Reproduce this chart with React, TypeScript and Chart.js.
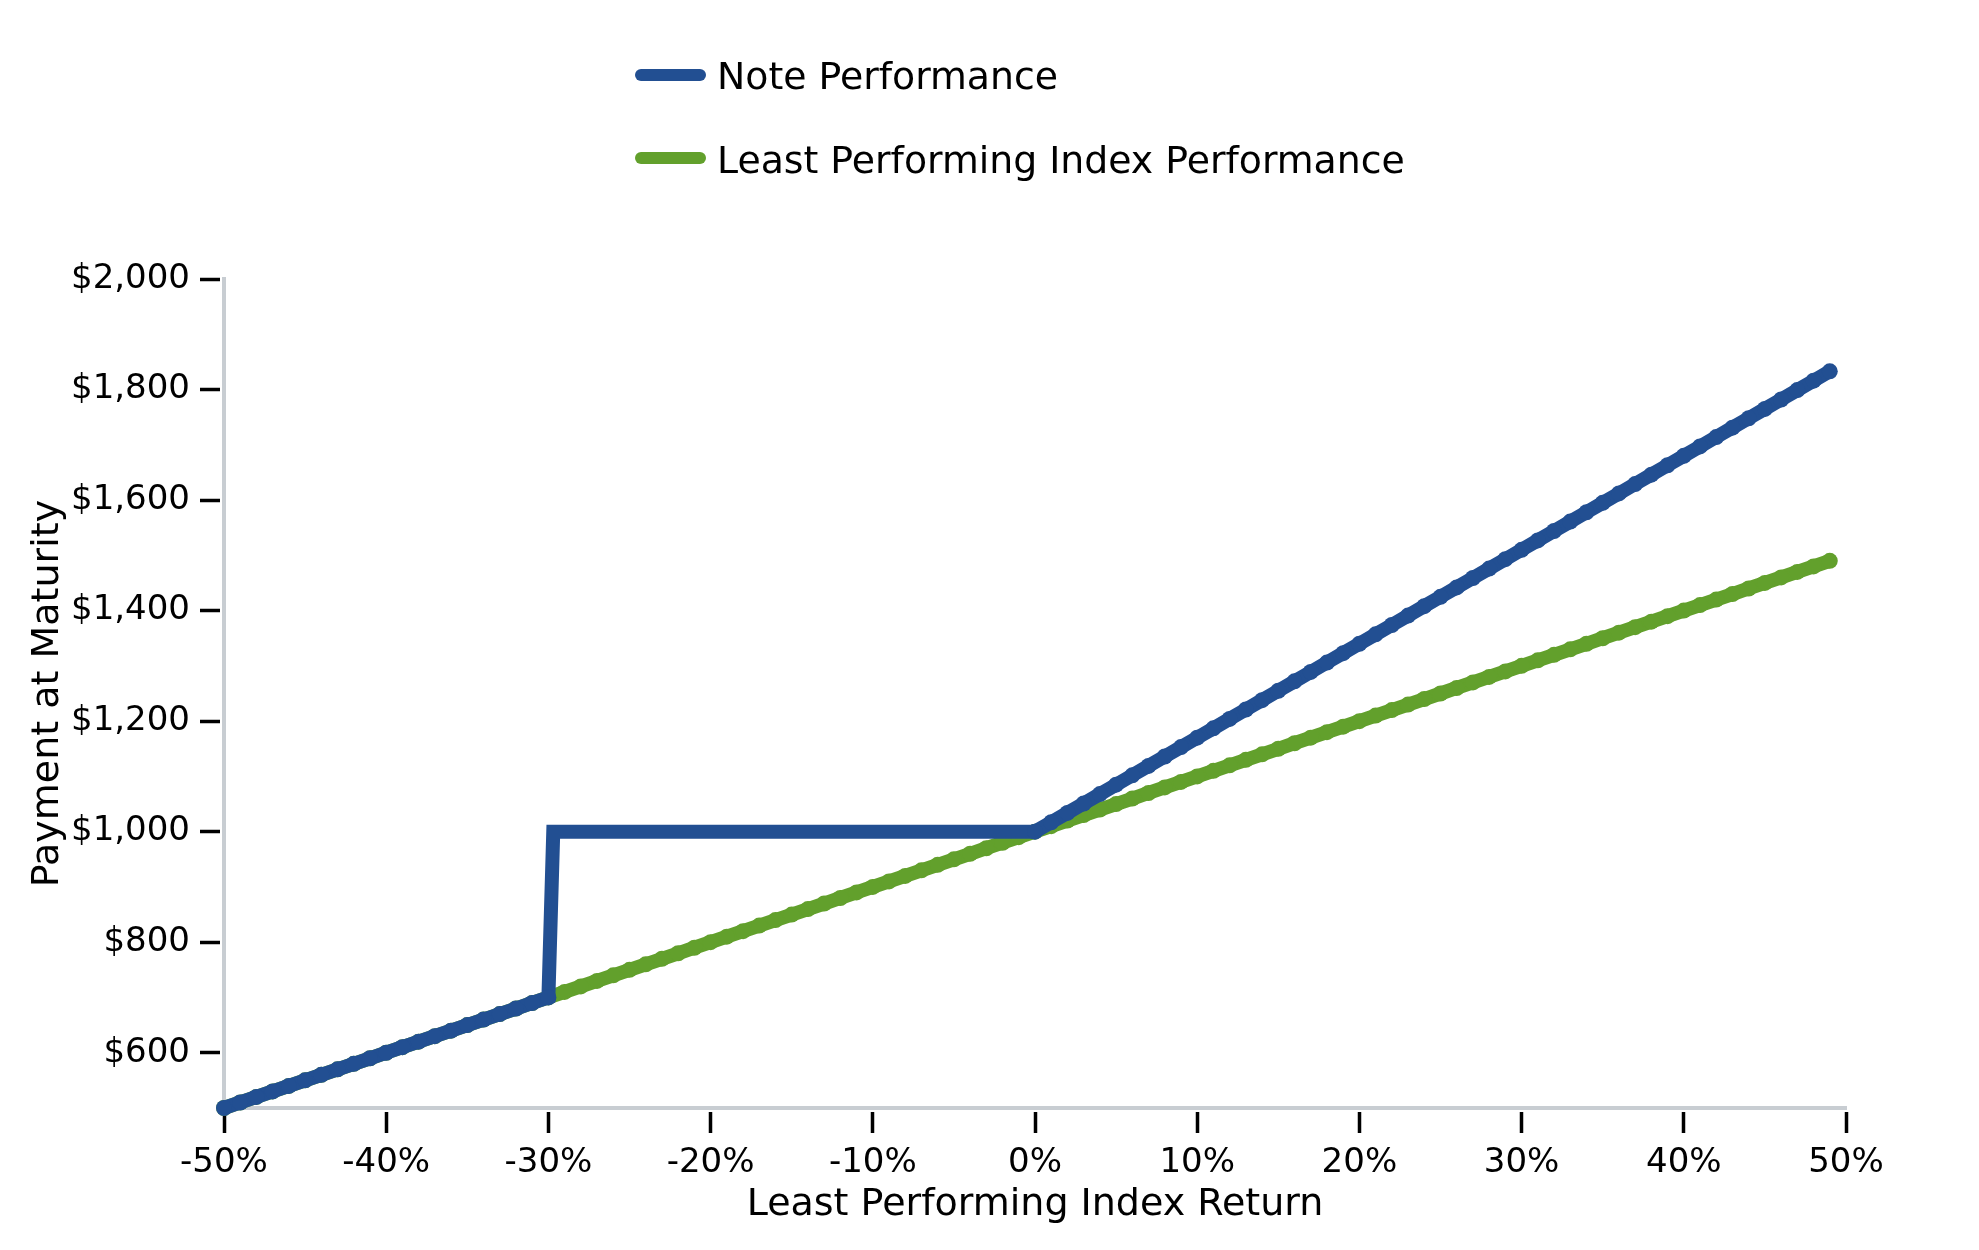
import { useEffect, useRef } from "react";
import { Chart, registerables } from "chart.js";

Chart.register(...registerables);

// least performing index return (%) and the index payment per $1,000
const returnPct = [
  -50, -49, -48, -47, -46, -45, -44, -43, -42, -41, -40, -39, -38, -37, -36, -35, -34, -33, -32, -31,
  -30, -29, -28, -27, -26, -25, -24, -23, -22, -21, -20, -19, -18, -17, -16, -15, -14, -13, -12, -11,
  -10, -9, -8, -7, -6, -5, -4, -3, -2, -1, 0, 1, 2, 3, 4, 5, 6, 7, 8, 9,
  10, 11, 12, 13, 14, 15, 16, 17, 18, 19, 20, 21, 22, 23, 24, 25, 26, 27, 28, 29,
  30, 31, 32, 33, 34, 35, 36, 37, 38, 39, 40, 41, 42, 43, 44, 45, 46, 47, 48, 49,
];
const indexPayment = [
  500, 510, 520, 530, 540, 550, 560, 570, 580, 590, 600, 610, 620, 630, 640, 650, 660, 670, 680, 690,
  700, 710, 720, 730, 740, 750, 760, 770, 780, 790, 800, 810, 820, 830, 840, 850, 860, 870, 880, 890,
  900, 910, 920, 930, 940, 950, 960, 970, 980, 990, 1000, 1010, 1020, 1030, 1040, 1050, 1060, 1070, 1080, 1090,
  1100, 1110, 1120, 1130, 1140, 1150, 1160, 1170, 1180, 1190, 1200, 1210, 1220, 1230, 1240, 1250, 1260, 1270, 1280, 1290,
  1300, 1310, 1320, 1330, 1340, 1350, 1360, 1370, 1380, 1390, 1400, 1410, 1420, 1430, 1440, 1450, 1460, 1470, 1480, 1490,
];

// note payment at maturity: 1:1 loss below the -30% barrier, flat $1,000 up to 0%, 1.7x upside
const noteReturnPct = [
  -50, -49, -48, -47, -46, -45, -44, -43, -42, -41, -40, -39, -38, -37, -36, -35, -34, -33, -32, -31,
  -30, -29.7, 0, 1, 2, 3, 4, 5, 6, 7, 8, 9,
  10, 11, 12, 13, 14, 15, 16, 17, 18, 19, 20, 21, 22, 23, 24, 25, 26, 27, 28, 29,
  30, 31, 32, 33, 34, 35, 36, 37, 38, 39, 40, 41, 42, 43, 44, 45, 46, 47, 48, 49,
];
const notePayment = [
  500, 510, 520, 530, 540, 550, 560, 570, 580, 590, 600, 610, 620, 630, 640, 650, 660, 670, 680, 690,
  700, 1000, 1000, 1017, 1034, 1051, 1068, 1085, 1102, 1119, 1136, 1153,
  1170, 1187, 1204, 1221, 1238, 1255, 1272, 1289, 1306, 1323, 1340, 1357, 1374, 1391, 1408, 1425, 1442, 1459, 1476, 1493,
  1510, 1527, 1544, 1561, 1578, 1595, 1612, 1629, 1646, 1663, 1680, 1697, 1714, 1731, 1748, 1765, 1782, 1799, 1816, 1833,
];
// the flat stretch is drawn as a plain line, without dots
const flatStart = -29.7;

const xTicks = [-50, -40, -30, -20, -10, 0, 10, 20, 30, 40, 50];
const yTicks = [600, 800, 1000, 1200, 1400, 1600, 1800, 2000];

const seriesLabels = ["Note Performance", "Least Performing Index Performance"];

const NOTE_COLOR = "#224f92";
const INDEX_COLOR = "#62a02c";
const AXIS_GREY = "#c8cdd2";
const FONT = "'DejaVu Sans', sans-serif";

export default function App() {
  const canvasRef = useRef<HTMLCanvasElement>(null);

  useEffect(() => {
    const ctx = canvasRef.current?.getContext("2d");
    if (!ctx) return;

    const chart = new Chart(ctx, {
      type: "line",
      data: {
        datasets: [
          {
            label: seriesLabels[0],
            data: noteReturnPct.map((x, i) => ({ x, y: notePayment[i] })),
            borderColor: NOTE_COLOR,
            backgroundColor: NOTE_COLOR,
            pointBackgroundColor: NOTE_COLOR,
            pointRadius: (c: any) => (noteReturnPct[c.dataIndex] === flatStart ? 0 : 8),
          },
          {
            label: seriesLabels[1],
            data: returnPct.map((x, i) => ({ x, y: indexPayment[i] })),
            borderColor: INDEX_COLOR,
            backgroundColor: INDEX_COLOR,
            pointBackgroundColor: INDEX_COLOR,
            pointRadius: 8,
          },
        ],
      },
      options: {
        animation: false,
        responsive: true,
        maintainAspectRatio: false,
        devicePixelRatio: 1,
        layout: { padding: { top: 279, right: 133, bottom: 0, left: 0 } },
        elements: {
          line: { borderWidth: 14, tension: 0 },
          point: { borderWidth: 0, hoverRadius: 8 },
        },
        datasets: { line: { clip: false } as any },
        plugins: {
          legend: { display: false },
          tooltip: { enabled: false },
        },
        scales: {
          x: {
            type: "linear",
            min: -50,
            max: 50,
            afterFit: (s: any) => {
              s.height = 142;
            },
            afterBuildTicks: (s: any) => {
              s.ticks = xTicks.map((value) => ({ value }));
            },
            ticks: {
              color: "#000",
              font: { family: FONT, size: 34 },
              padding: 10,
              maxRotation: 0,
              autoSkip: false,
              callback: (v: any) => `${v}%`,
            },
            grid: {
              display: true,
              drawOnChartArea: false,
              tickLength: 25,
              tickColor: "#000",
              tickWidth: 3.5,
              tickBorderDash: [0, 2, 21, 100],
            },
            border: { display: true, color: AXIS_GREY, width: 4 },
            title: {
              display: true,
              text: "Least Performing Index Return",
              color: "#000",
              font: { family: FONT, size: 38 },
              padding: { top: 0, bottom: 22 },
            },
          },
          y: {
            type: "linear",
            min: 500,
            max: 2000,
            afterFit: (s: any) => {
              s.width = 224;
            },
            afterBuildTicks: (s: any) => {
              s.ticks = yTicks.map((value) => ({ value }));
            },
            ticks: {
              color: "#000",
              font: { family: FONT, size: 34 },
              padding: 10,
              callback: (v: any) => "$" + Number(v).toLocaleString("en-US"),
            },
            grid: {
              display: true,
              drawOnChartArea: false,
              tickLength: 24,
              tickColor: "#000",
              tickWidth: 3.5,
              tickBorderDash: [20, 100],
            },
            border: { display: true, color: AXIS_GREY, width: 4 },
            title: {
              display: true,
              text: "Payment at Maturity",
              color: "#000",
              font: { family: FONT, size: 38 },
              padding: { top: 25, bottom: 0 },
            },
          },
        },
      },
    });

    return () => chart.destroy();
  }, []);

  const legendRows = [
    { label: seriesLabels[0], color: NOTE_COLOR, center: 74.5 },
    { label: seriesLabels[1], color: INDEX_COLOR, center: 158.3 },
  ];

  return (
    <div
      style={{
        position: "fixed",
        left: 0,
        top: 0,
        width: 1979,
        height: 1250,
        background: "#fff",
      }}
    >
      <canvas ref={canvasRef} />
      {legendRows.map((row) => (
        <div key={row.label}>
          <div
            style={{
              position: "absolute",
              left: 635,
              top: row.center - 6,
              width: 71,
              height: 12,
              borderRadius: 6,
              background: row.color,
            }}
          />
          <div
            style={{
              position: "absolute",
              left: 717,
              top: row.center - 17.5,
              fontFamily: FONT,
              fontSize: 37.8,
              lineHeight: "38px",
              color: "#000",
              whiteSpace: "nowrap",
            }}
          >
            {row.label}
          </div>
        </div>
      ))}
    </div>
  );
}
